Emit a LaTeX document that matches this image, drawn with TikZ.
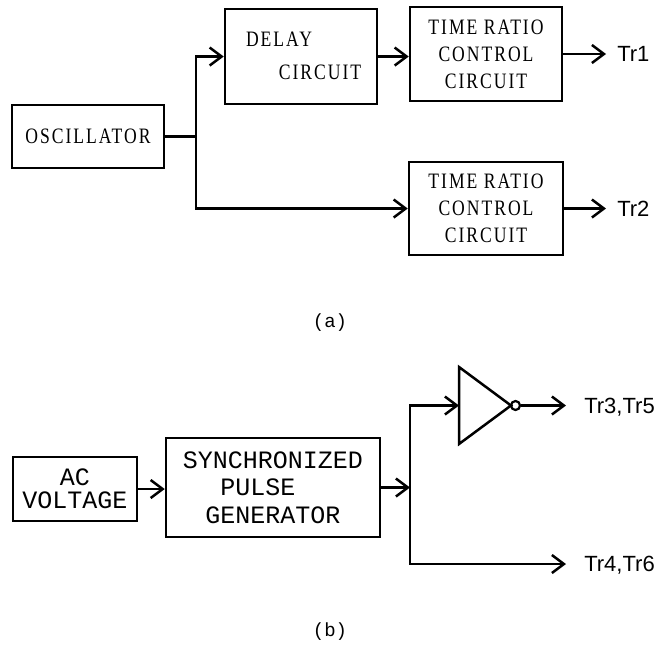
\documentclass[tikz,border=0pt]{standalone}
\usepackage{fontspec}
\setmainfont{Liberation Serif}
\newfontfamily\myserif[FakeStretch=0.8,LetterSpace=9]{Liberation Serif}
\newfontfamily\mymono{Liberation Mono}
\newfontfamily\mysans{Liberation Sans}
\usetikzlibrary{arrows.meta}
\begin{document}
\begin{tikzpicture}[x=1pt,y=-1pt,line width=2.5pt,
  box/.style={draw, line width=2.5pt, inner sep=0pt, align=center},
  abox/.style={box, font=\myserif\fontsize{22}{27}\selectfont},
  bbox/.style={box, font=\mymono\fontsize{25}{27.5}\selectfont},
  btext/.style={inner sep=0pt, font=\myserif\fontsize{22}{27}\selectfont},
  arr/.style={-{Straight Barb[length=12pt,width=18pt]}, line width=2.5pt},
  trlab/.style={anchor=west, inner sep=0pt, text depth=0pt, font=\mysans\fontsize{22}{26}\selectfont},
  sublabel/.style={inner sep=0pt, font=\mymono\fontsize{19}{22}\selectfont}]
\useasboundingbox (0,0) rectangle (669,649);
% ---------- (a) ----------
\node[abox, minimum width=152pt, minimum height=63pt] (osc) at (88,136.5) {OSCILLATOR};
\node[box, minimum width=152pt, minimum height=95pt] (delay) at (301,56.5) {};
\node[btext] (delayA) at (279,39) {DELAY};
\node[btext] (delayB) at (320,72) {CIRCUIT};
\node[abox, minimum width=152pt, minimum height=94pt] (trc1) at (486,54) {TIME RATIO\\CONTROL\\CIRCUIT};
\node[abox, minimum width=154pt, minimum height=93pt] (trc2) at (486,208.5) {TIME RATIO\\CONTROL\\CIRCUIT};
\coordinate (ja) at (196,136.5);
\draw (osc.east) -- (ja);
\draw[arr] (ja) |- (delay.west);
\draw[arr] (ja) |- (trc2.west);
\draw[arr] (delay.east) -- (delay.east -| trc1.west);
\coordinate (e1) at (606,54);
\node[trlab] (tr1) at (616,54) {Tr1};
\draw[arr] (trc1.east) -- (e1);
\coordinate (e2) at (606,208.5);
\node[trlab] (tr2) at (616,208.5) {Tr2};
\draw[arr] (trc2.east) -- (e2);
\node[sublabel] (la) at (330,323) {(a)};
% ---------- (b) ----------
\node[bbox, minimum width=124pt, minimum height=64pt, font=\mymono\fontsize{25}{23}\selectfont] (ac) at (75,489) {AC\\VOLTAGE};
\node[bbox, minimum width=214pt, minimum height=99pt] (sync) at (273,487.5) {SYNCHRONIZED\\PULSE\phantom{XX}\\GENERATOR};
\draw[arr] (ac.east) -- (ac.east -| sync.west);
\coordinate (jb) at (410,487.5);
\draw[arr] (sync.east) -- (jb);
\coordinate (inin) at (459,405.5);
\coordinate (invtop) at (459,367);
\coordinate (invtip) at (511,405.5);
\coordinate (invbot) at (459,444);
\draw[line join=miter] (invtop) -- (invtip) -- (invbot) -- cycle;
\node[circle, draw, line width=2.2pt, minimum size=9pt, inner sep=0pt] (bub) at (515.5,405.5) {};
\draw[arr] (jb) |- (inin);
\coordinate (e3) at (566,405.5);
\node[trlab] (tr35) at (583,405.5) {Tr3,Tr5};
\draw[arr] (bub.east) -- (e3);
\coordinate (e4) at (566,564);
\node[trlab] (tr46) at (583,564) {Tr4,Tr6};
\draw[arr] (jb) |- (e4);
\node[sublabel] (lb) at (330,632) {(b)};
\end{tikzpicture}
\end{document}
